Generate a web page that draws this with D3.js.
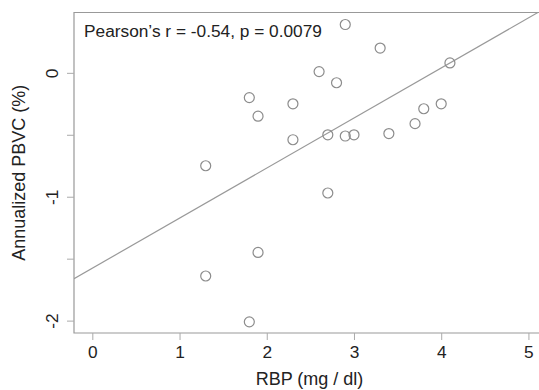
<!DOCTYPE html>
<html>
<head>
<meta charset="utf-8">
<script src="https://cdn.jsdelivr.net/npm/d3@7"></script>
<style>
  body { margin: 0; background: #fff; }
  text { font-family: "Liberation Sans", Arial, sans-serif; fill: #222; }
</style>
</head>
<body>
<div id="graph"></div>
<script>
// RBP (mg/dl) vs annualized PBVC (%)
var rbp  = [1.3, 1.3, 1.8, 1.8, 1.9, 1.9, 2.3, 2.3, 2.6, 2.7, 2.7, 2.8, 2.9, 2.9, 3.0, 3.3, 3.4, 3.7, 3.8, 4.0, 4.1];
var pbvc = [-0.75, -1.64, -0.2, -2.01, -0.35, -1.45, -0.25, -0.54, 0.01, -0.5, -0.97, -0.08, 0.39, -0.51, -0.5, 0.2, -0.49, -0.41, -0.29, -0.25, 0.08];
var xTicks = [0, 1, 2, 3, 4, 5];
var yTicks = [0, -0.5, -1, -1.5, -2];
var yLabelled = [0, -1, -2];
var fitIntercept = -1.577, fitSlope = 0.404;
var statText = "Pearson\u2019s r = -0.54, p = 0.0079";

var W = 539, H = 390;
var margin = {top: 12.5, right: -6, bottom: 57, left: 74},
    width = W - margin.left - margin.right,
    height = H - margin.top - margin.bottom;

var svg = d3.select("#graph").append("svg")
    .attr("width", W)
    .attr("height", H)
    .append("g")
    .attr("transform", "translate(" + margin.left + "," + margin.top + ")");

var scX = d3.scaleLinear().domain([-0.21, 5.19]).range([0, width]);
var scY = d3.scaleLinear().domain([-2.1, 0.487]).range([height, 0]);

// frame (right side runs off the picture)
svg.append("path")
    .attr("d", "M" + width + ",0H0V" + height + "H" + width)
    .attr("fill", "none")
    .attr("stroke", "#999")
    .attr("stroke-width", 1.2);

// x axis
var xAxis = d3.axisBottom(scX).tickValues(xTicks).tickSize(7).tickPadding(6).tickFormat(d => String(d));
var gx = svg.append("g").attr("transform", "translate(0," + height + ")").call(xAxis);
gx.select(".domain").remove();
gx.selectAll(".tick line").attr("stroke", "#aaa");
gx.selectAll(".tick text").attr("font-size", "17.3px").attr("fill", "#222")
    .style("font-family", "'Liberation Sans', Arial, sans-serif");

// y axis, labels only on whole numbers
var yAxis = d3.axisLeft(scY).tickValues(yTicks).tickSize(7)
    .tickFormat(d => yLabelled.indexOf(d) >= 0 ? String(d) : "");
var gy = svg.append("g").call(yAxis);
gy.select(".domain").remove();
gy.selectAll(".tick line").attr("stroke", "#aaa");
gy.selectAll(".tick text")
    .attr("font-size", "17.3px").attr("fill", "#222")
    .style("font-family", "'Liberation Sans', Arial, sans-serif")
    .attr("x", null)
    .attr("text-anchor", "middle")
    .attr("transform", "translate(-22,0) rotate(-90)")
    .attr("dy", "0.35em");

// fit line
svg.append("clipPath").attr("id", "clip").append("rect")
    .attr("width", width).attr("height", height);
var x0 = scX.domain()[0], x1 = scX.domain()[1];
svg.append("line")
    .attr("clip-path", "url(#clip)")
    .attr("x1", scX(x0)).attr("y1", scY(fitIntercept + fitSlope * x0))
    .attr("x2", scX(x1)).attr("y2", scY(fitIntercept + fitSlope * x1))
    .attr("stroke", "#999")
    .attr("stroke-width", 1.2);

// points
svg.selectAll("circle")
    .data(rbp.map((d, i) => [d, pbvc[i]]))
    .enter()
    .append("circle")
    .attr("cx", d => scX(d[0]))
    .attr("cy", d => scY(d[1]))
    .attr("r", 5)
    .attr("fill", "none")
    .attr("stroke", "#8c8c8c")
    .attr("stroke-width", 1.2);

// stat label
svg.append("text")
    .attr("x", 10)
    .attr("y", 24)
    .attr("font-size", "17.3px")
    .text(statText);

// labels
svg.append("text")
    .attr("x", (W / 2 + 40) - margin.left)
    .attr("y", height + 52)
    .attr("font-size", "18px")
    .attr("text-anchor", "middle")
    .text("RBP (mg / dl)");

svg.append("text")
    .attr("transform", "rotate(-90)")
    .attr("x", -height / 2)
    .attr("y", -49)
    .attr("font-size", "18px")
    .attr("text-anchor", "middle")
    .text("Annualized PBVC (%)");
</script>
</body>
</html>
